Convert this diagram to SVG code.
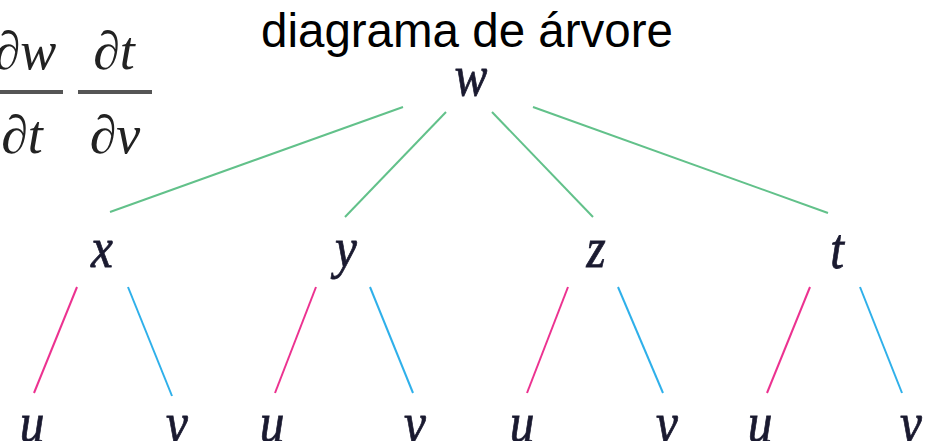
<svg xmlns="http://www.w3.org/2000/svg" width="930" height="441" viewBox="0 0 930 441">
<style>
.title{font-family:"Liberation Sans",Arial,sans-serif;font-size:47.5px;fill:#000}
.math{font-family:"Liberation Serif","Times New Roman",serif;font-style:italic;font-size:54px;fill:#222;text-anchor:middle}
.var{font-family:"Liberation Serif","Times New Roman",serif;font-style:italic;font-size:58px;fill:#1a1a30;stroke:#1a1a30;stroke-width:0.8;text-anchor:middle}
.bar{stroke:#555;stroke-width:4}
.g{stroke:#62c18a;stroke-width:2;fill:none}
.p{stroke:#ec3290;stroke-width:2;fill:none}
.b{stroke:#2fb0ea;stroke-width:2;fill:none}
</style>
<rect width="930" height="441" fill="#fff"/>
<text class="title" x="261" y="47">diagrama de árvore</text>
<g id="formula">
<text class="math" x="25" y="69">∂w</text>
<line class="bar" x1="-12" y1="92" x2="63" y2="92"/>
<text class="math" x="22" y="153">∂t</text>
<text class="math" x="114" y="69">∂t</text>
<line class="bar" x1="78" y1="92" x2="152" y2="92"/>
<text class="math" x="115" y="153">∂v</text>
</g>
<g id="connectors">
<line class="g" x1="403" y1="107" x2="110" y2="212"/>
<line class="g" x1="446" y1="112" x2="345" y2="217"/>
<line class="g" x1="492" y1="112" x2="593" y2="217"/>
<line class="g" x1="533" y1="107" x2="828" y2="213"/>
<line class="p" x1="77" y1="287" x2="34" y2="393"/>
<line class="b" x1="128" y1="287" x2="172" y2="396"/>
<line class="p" x1="316" y1="287" x2="275" y2="393"/>
<line class="b" x1="370" y1="287" x2="413" y2="393"/>
<line class="p" x1="568" y1="287" x2="527" y2="393"/>
<line class="b" x1="618" y1="287" x2="663" y2="393"/>
<line class="p" x1="810" y1="287" x2="767" y2="393"/>
<line class="b" x1="860" y1="287" x2="902" y2="393"/>
</g>
<g id="node-w"><text class="var" transform="translate(471,95) scale(0.85,1)">w</text></g>
<g id="node-x"><text class="var" transform="translate(102,267) scale(0.85,1)">x</text></g>
<g id="node-y"><text class="var" transform="translate(346,267) scale(0.85,1)">y</text></g>
<g id="node-z"><text class="var" transform="translate(596,267) scale(0.85,1)">z</text></g>
<g id="node-t"><text class="var" transform="translate(837,268) scale(0.85,1)">t</text></g>
<g id="leaf-xu"><text class="var" transform="translate(32,442) scale(0.85,1)">u</text></g>
<g id="leaf-xv"><text class="var" transform="translate(177,442) scale(0.85,1)">v</text></g>
<g id="leaf-yu"><text class="var" transform="translate(272,442) scale(0.85,1)">u</text></g>
<g id="leaf-yv"><text class="var" transform="translate(415,442) scale(0.85,1)">v</text></g>
<g id="leaf-zu"><text class="var" transform="translate(522,442) scale(0.85,1)">u</text></g>
<g id="leaf-zv"><text class="var" transform="translate(667,442) scale(0.85,1)">v</text></g>
<g id="leaf-tu"><text class="var" transform="translate(760,442) scale(0.85,1)">u</text></g>
<g id="leaf-tv"><text class="var" transform="translate(911,442) scale(0.85,1)">v</text></g>
</svg>
